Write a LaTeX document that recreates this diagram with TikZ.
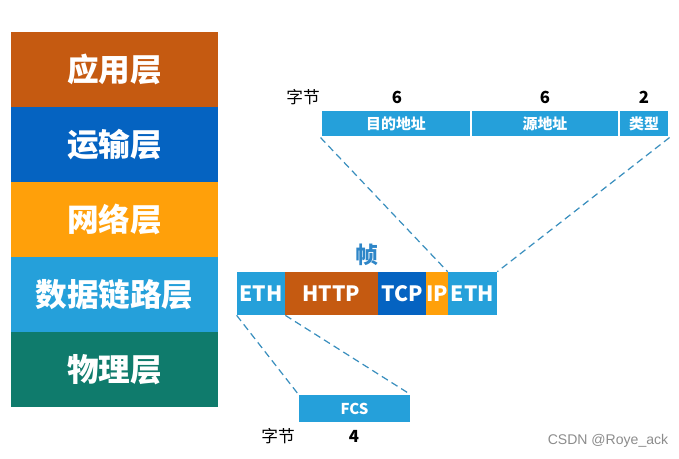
\documentclass[tikz,border=0pt]{standalone}
\usepackage{fontspec}
\setmainfont{Noto Sans CJK SC}
\newfontfamily\wmfont{Liberation Sans}
\usetikzlibrary{positioning}
\definecolor{AppBrown}{HTML}{C55A11}
\definecolor{TransBlue}{HTML}{0563C1}
\definecolor{NetOrange}{HTML}{FFA00A}
\definecolor{LinkBlue}{HTML}{25A0DA}
\definecolor{PhyTeal}{HTML}{0F7B6C}
\definecolor{FrameBlue}{HTML}{2E86C8}
\definecolor{DashBlue}{HTML}{3A8FBE}
\tikzset{
  layerbox/.style={minimum width=4.14cm, minimum height=1.5cm, inner sep=0pt, text=white, font=\fontsize{18}{20}\selectfont\bfseries},
  cellbox/.style={minimum height=0.86cm, inner sep=0pt, text=white, font=\fontsize{12}{14}\selectfont\bfseries},
  fieldbox/.style={fill=LinkBlue, draw=white, line width=0.6pt, minimum height=0.54cm, inner sep=0pt, text=white, font=\fontsize{8.5}{10}\selectfont\bfseries},
  bytelabel/.style={font=\fontsize{9.5}{11}\selectfont\bfseries, text=black},
  zoomline/.style={draw=DashBlue, dash pattern=on 4pt off 2.5pt, line width=0.7pt},
}
\begin{document}
\begin{tikzpicture}[x=0.02cm,y=-0.02cm]
\path[use as bounding box] (0,0) rectangle (679,458);

% protocol stack
\node[layerbox,fill=AppBrown] (app) at (114.5,69.5) {应用层};
\node[layerbox,fill=TransBlue] (trans) at (114.5,144.5) {运输层};
\node[layerbox,fill=NetOrange] (net) at (114.5,219.5) {网络层};
\node[layerbox,fill=LinkBlue] (link) at (114.5,294.5) {数据链路层};
\node[layerbox,fill=PhyTeal] (phy) at (114.5,369.5) {物理层};

% frame
\node[font=\fontsize{13}{15}\selectfont\bfseries,text=FrameBlue] (frame) at (367,255) {帧};
\node[cellbox,fill=LinkBlue,minimum width=0.96cm] (eth1) at (261,293.5) {ETH};
\node[cellbox,fill=AppBrown,minimum width=1.86cm] (http) at (331.5,293.5) {HTTP};
\node[cellbox,fill=TransBlue,minimum width=0.96cm] (tcp) at (402,293.5) {TCP};
\node[cellbox,fill=NetOrange,minimum width=0.44cm] (ip) at (437,293.5) {IP};
\node[cellbox,fill=LinkBlue,minimum width=0.98cm] (eth2) at (472.5,293.5) {ETH};

% header fields
\node[fieldbox,minimum width=3.0cm] (dst) at (396,123.5) {目的地址};
\node[fieldbox,minimum width=2.96cm] (src) at (545,123.5) {源地址};
\node[fieldbox,minimum width=1.0cm] (type) at (644,123.5) {类型};
\node[bytelabel,font=\fontsize{9.5}{11}\selectfont] (hbyte) at (303,97) {字节};
\node[bytelabel] (dstlen) at (397,97) {6};
\node[bytelabel] (srclen) at (545,97) {6};
\node[bytelabel] (typelen) at (644,97) {2};
\draw[zoomline] (dst.south west) -- (eth2.north west);
\draw[zoomline] (type.south east) -- (eth2.north east);

% trailer
\node[fieldbox,draw=none,minimum width=2.22cm] (fcs) at (354.5,408.5) {FCS};
\node[bytelabel,font=\fontsize{9.5}{11}\selectfont] (tbyte) at (278,436) {字节};
\node[bytelabel] (fcslen) at (354,436) {4};
\draw[zoomline] (eth1.south west) -- (fcs.north west);
\draw[zoomline] (eth1.south east) -- (fcs.north east);

\node[font=\wmfont\fontsize{8}{10}\selectfont,text=black!45] (mark) at (608,441) {CSDN @Roye\_ack};
\end{tikzpicture}
\end{document}
